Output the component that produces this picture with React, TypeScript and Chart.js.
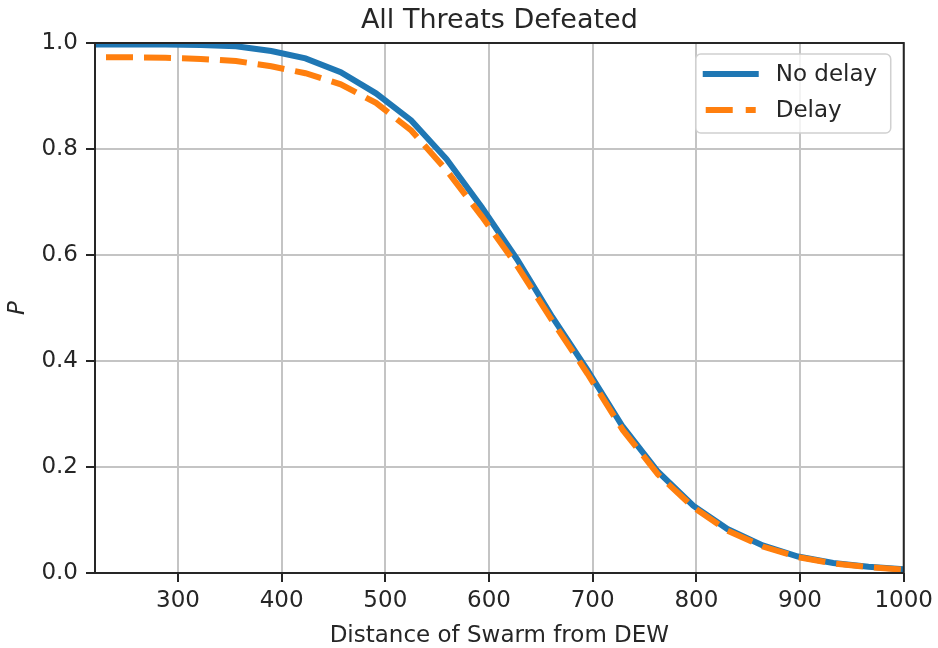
import React, { useEffect, useRef } from "react";
import { Chart, registerables } from "chart.js";

Chart.register(...registerables);

// distance of swarm from DEW (x) and probability of all threats defeated (y)
const distance = [
  220, 254, 288, 322, 356, 390, 423, 457, 491, 525, 559, 593, 627, 661, 695,
  729, 763, 797, 830, 864, 898, 932, 966, 1000,
];
const noDelay = [
  0.997, 0.997, 0.997, 0.996, 0.994, 0.985, 0.971, 0.945, 0.905, 0.854, 0.781,
  0.69, 0.592, 0.483, 0.383, 0.276, 0.191, 0.127, 0.083, 0.052, 0.031, 0.019,
  0.012, 0.007,
];
const delay = [
  0.973, 0.973, 0.972, 0.97, 0.966, 0.956, 0.943, 0.922, 0.887, 0.835, 0.76,
  0.673, 0.58, 0.476, 0.376, 0.27, 0.186, 0.124, 0.08, 0.05, 0.03, 0.018,
  0.011, 0.006,
];
const xTicks = [300, 400, 500, 600, 700, 800, 900, 1000];
const yTicks = [0, 0.2, 0.4, 0.6, 0.8, 1.0];
const seriesNames = ["No delay", "Delay"];

const BLUE = "#1f77b4";
const ORANGE = "#ff7f0e";
const TEXT = "#262626";
const FONT = "'DejaVu Sans', sans-serif";
const LINE_W = 6;

const decorations = {
  id: "decorations",
  afterDatasetsDraw(chart: any) {
    const { ctx, chartArea: a } = chart;
    ctx.save();
    ctx.strokeStyle = TEXT;
    ctx.lineWidth = 2;
    ctx.strokeRect(a.left, a.top, a.right - a.left, a.bottom - a.top);
    ctx.restore();
  },
  afterDraw(chart: any) {
    const { ctx, chartArea: a } = chart;
    const cx = (a.left + a.right) / 2;
    ctx.save();
    ctx.fillStyle = TEXT;
    ctx.textAlign = "center";
    ctx.textBaseline = "alphabetic";
    ctx.font = `27px ${FONT}`;
    ctx.fillText("All Threats Defeated", cx, 27.5);
    ctx.font = `23px ${FONT}`;
    ctx.fillText("Distance of Swarm from DEW", cx, 641.5);

    ctx.save();
    ctx.translate(24, (a.top + a.bottom) / 2);
    ctx.rotate(-Math.PI / 2);
    ctx.font = `italic 23px ${FONT}`;
    ctx.fillText("P", 0, 0);
    ctx.restore();

    // legend
    const bx = a.right - 208;
    const by = a.top + 11;
    ctx.beginPath();
    ctx.roundRect(bx, by, 195, 79, 5);
    ctx.fillStyle = "rgba(255,255,255,0.8)";
    ctx.fill();
    ctx.strokeStyle = "#d0d0d0";
    ctx.lineWidth = 1.5;
    ctx.stroke();

    const rows = [
      { y: by + 20, color: BLUE, dash: [] as number[], x0: 7, x1: 63 },
      { y: by + 56, color: ORANGE, dash: [27, 13], x0: 10, x1: 60 },
    ];
    rows.forEach((r, i) => {
      ctx.beginPath();
      ctx.setLineDash(r.dash);
      ctx.strokeStyle = r.color;
      ctx.lineWidth = LINE_W;
      ctx.lineCap = "butt";
      ctx.moveTo(bx + r.x0, r.y);
      ctx.lineTo(bx + r.x1, r.y);
      ctx.stroke();
      ctx.setLineDash([]);
      ctx.fillStyle = TEXT;
      ctx.textAlign = "left";
      ctx.textBaseline = "middle";
      ctx.font = `23px ${FONT}`;
      ctx.fillText(seriesNames[i], bx + 80, r.y + 1);
    });
    ctx.restore();
  },
};

const ThreatChart = () => {
  const chartRef = useRef<HTMLCanvasElement>(null);
  const chartInstanceRef = useRef<any>(null);

  useEffect(() => {
    const ctx = chartRef.current!.getContext("2d")!;
    if (chartInstanceRef.current) chartInstanceRef.current.destroy();

    const gridOpts = {
      color: "#c4c4c4",
      lineWidth: 2,
      tickLength: 9,
      tickColor: TEXT,
      tickWidth: 2,
    };
    const tickFont = { family: FONT, size: 23 };

    chartInstanceRef.current = new Chart(ctx, {
      type: "line",
      data: {
        datasets: [
          {
            label: seriesNames[0],
            data: distance.map((d, i) => ({ x: d, y: noDelay[i] })),
            borderColor: BLUE,
            borderWidth: LINE_W,
            pointRadius: 0,
            tension: 0,
            order: 2,
          },
          {
            label: seriesNames[1],
            data: distance.map((d, i) => ({ x: d, y: delay[i] })),
            borderColor: ORANGE,
            borderWidth: LINE_W,
            borderDash: [27, 11],
            borderDashOffset: 27,
            borderCapStyle: "butt",
            pointRadius: 0,
            tension: 0,
            order: 1,
          },
        ],
      },
      options: {
        animation: false,
        responsive: false,
        layout: { padding: { top: 43, right: 33, left: 0, bottom: 0 } },
        plugins: {
          legend: { display: false },
          title: { display: false },
          tooltip: { enabled: false },
        },
        scales: {
          x: {
            type: "linear",
            min: 220,
            max: 1000,
            afterFit: (s: any) => {
              s.height = 75;
            },
            afterBuildTicks: (s: any) => {
              s.ticks = xTicks.map((v) => ({ value: v }));
            },
            grid: gridOpts,
            border: { display: false },
            ticks: {
              font: tickFont,
              color: TEXT,
              padding: 5,
              maxRotation: 0,
              autoSkip: false,
              callback: (v: any) => String(v),
            },
          },
          y: {
            type: "linear",
            min: 0,
            max: 1,
            afterFit: (s: any) => {
              s.width = 95;
            },
            afterBuildTicks: (s: any) => {
              s.ticks = yTicks.map((v) => ({ value: v }));
            },
            grid: gridOpts,
            border: { display: false },
            ticks: {
              font: tickFont,
              color: TEXT,
              padding: 8,
              callback: (v: any) => Number(v).toFixed(1),
            },
          },
        },
      },
      plugins: [decorations],
    } as any);

    return () => {
      if (chartInstanceRef.current) {
        chartInstanceRef.current.destroy();
        chartInstanceRef.current = null;
      }
    };
  }, []);

  return <canvas ref={chartRef} width={938} height={648} />;
};

export default function App() {
  return (
    <div
      style={{
        position: "fixed",
        left: 0,
        top: 0,
        width: 938,
        height: 648,
        background: "#fff",
      }}
    >
      <ThreatChart />
    </div>
  );
}
